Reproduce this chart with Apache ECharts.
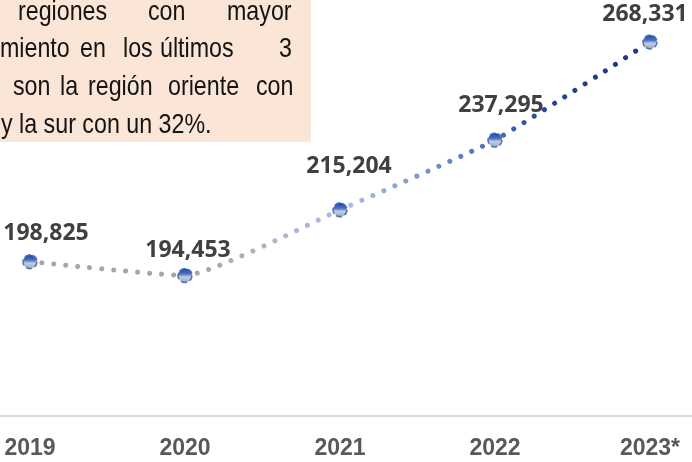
<!DOCTYPE html>
<html>
<head>
<meta charset="utf-8">
<script src="https://cdn.jsdelivr.net/npm/echarts@6/dist/echarts.min.js"></script>
<style>
html,body{margin:0;padding:0;background:#fff;}
#chart{width:692px;height:462px;}
</style>
</head>
<body>
<div id="chart"></div>
<script>
var categories = ['2019', '2020', '2021', '2022', '2023*'];
var values = [198825, 194453, 215204, 237295, 268331];

// Note box text (visible fragments, justified lines)
var noteLines = [
  ['regiones', 'con', 'mayor'],
  ['miento', 'en', 'los', 'últimos', '3'],
  ['son', 'la', 'región', 'oriente', 'con'],
  ['y la sur con un 32%.']
];
var noteWordX = [
  [18, 148, 227],
  [0, 80, 123, 160, 279],
  [13, 60, 88, 168, 256],
  [1]
];
var noteBaselines = [19, 56, 94, 132];

var labelOffsets = [[16, -28], [3, -25], [9, -43], [6, -35], [-5, -27]];

var chart = echarts.init(document.getElementById('chart'), null, {renderer: 'canvas'});

var graphics = [{
  type: 'rect',
  shape: {x: 0, y: 0, width: 311, height: 142},
  style: {fill: '#fbe5d6'},
  z: 0
}];
noteLines.forEach(function (words, li) {
  words.forEach(function (w, wi) {
    graphics.push({
      type: 'text',
      x: noteWordX[li][wi],
      y: noteBaselines[li] + 7,
      scaleX: 0.83,
      style: {
        text: w,
        fill: '#141414',
        font: '28px "Liberation Sans", Arial, sans-serif',
        textVerticalAlign: 'bottom'
      },
      z: 1
    });
  });
});

var lineGrad = new echarts.graphic.LinearGradient(0, 0, 1, 0, [
  {offset: 0, color: '#a6a6a6'},
  {offset: 0.27, color: '#a6a6a6'},
  {offset: 0.4, color: '#acb6cc'},
  {offset: 0.52, color: '#a6bde6'},
  {offset: 0.64, color: '#7492cc'},
  {offset: 0.76, color: '#456ab0'},
  {offset: 0.82, color: '#26469a'},
  {offset: 1, color: '#1c3578'}
]);

var markerGrad = new echarts.graphic.LinearGradient(0, 0, 0, 1, [
  {offset: 0, color: '#1a3c90'},
  {offset: 0.4, color: '#4d72c2'},
  {offset: 0.6, color: '#c3cde2'},
  {offset: 1, color: '#a0a0a0'}
]);

var seriesData = values.map(function (v, i) { return [i, v]; });

chart.setOption({
  animation: false,
  backgroundColor: '#ffffff',
  grid: {left: 0, right: 0, top: 5, bottom: 46, containLabel: false},
  xAxis: {
    type: 'value',
    min: -30 / 155,
    max: 4 + 42 / 155,
    axisLine: {show: true, onZero: false, lineStyle: {color: '#d9d9d9', width: 2}},
    axisTick: {show: false},
    splitLine: {show: false},
    axisLabel: {
      customValues: [0, 1, 2, 3, 4],
      formatter: function (v) { return categories[Math.round(v)]; },
      color: '#595959',
      fontFamily: '"Liberation Sans", Arial, sans-serif',
      fontWeight: 'bold',
      fontSize: 23,
      margin: 21,
      lineHeight: 23
    }
  },
  yAxis: {
    type: 'value',
    min: 150000,
    max: 280000,
    show: false
  },
  series: [{
    type: 'line',
    data: seriesData,
    smooth: 0.15,
    symbol: 'circle',
    symbolSize: 14,
    itemStyle: {
      color: markerGrad,
      borderColor: '#4472c4',
      borderWidth: 1.5,
      borderType: 'dashed'
    },
    lineStyle: {
      color: lineGrad,
      width: 5,
      type: [0.01, 12],
      cap: 'round'
    },
    label: {
      show: true,
      position: 'inside',
      formatter: function (p) { return p.value[1].toLocaleString('en-US'); },
      color: '#404040',
      fontFamily: '"Open Sans", sans-serif',
      fontWeight: 'bold',
      fontSize: 23,
      align: 'center',
      verticalAlign: 'middle'
    },
    labelLayout: function (params) {
      var o = labelOffsets[params.dataIndex];
      return {dx: o[0], dy: o[1]};
    },
    z: 3
  }],
  graphic: graphics
});
</script>
</body>
</html>
